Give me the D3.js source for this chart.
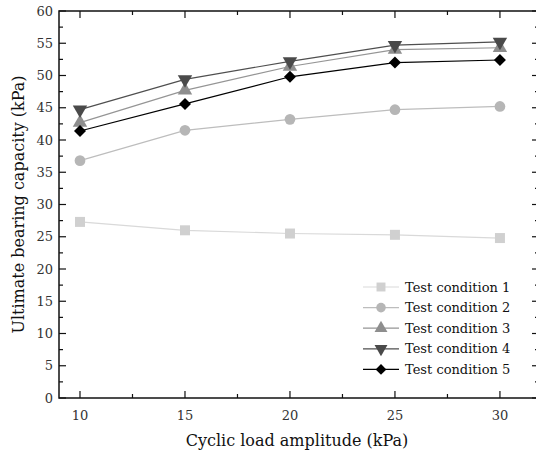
<!DOCTYPE html>
<html><head><meta charset="utf-8">
<script src="https://cdn.jsdelivr.net/npm/d3@7"></script>
<style>body{margin:0;background:#fff}svg{display:block}</style>
</head><body>
<svg id="c" width="536" height="457"></svg>
<script>
const amplitudes = [10, 15, 20, 25, 30];
const seriesNames = ["Test condition 1","Test condition 2","Test condition 3","Test condition 4","Test condition 5"];
const cond1 = [27.3, 26.0, 25.5, 25.3, 24.8];
const cond2 = [36.8, 41.5, 43.2, 44.7, 45.2];
const cond3 = [42.7, 47.7, 51.4, 54.0, 54.3];
const cond4 = [44.7, 49.4, 52.2, 54.7, 55.2];
const cond5 = [41.4, 45.6, 49.8, 52.0, 52.4];
const yTicks = [0,5,10,15,20,25,30,35,40,45,50,55,60];
const xTicks = [10,15,20,25,30];

const seriesVals = [cond1,cond2,cond3,cond4,cond5];
const lineColors = ["#d9d9d9","#bdbdbd","#959595","#4f4f4f","#000000"];
const markColors = ["#d0d0d0","#b6b6b6","#8e8e8e","#4a4a4a","#000000"];
const symbols = [d3.symbolSquare, d3.symbolCircle, d3.symbolTriangle, d3.symbolTriangle, d3.symbolSquare];
const symSizes = [100, 90, 90, 90, 72];
const rotations = [0,0,0,180,45];

const FONT = "DejaVu Serif";
const svg = d3.select("#c").style("font-family", FONT);
const L = 59, R = 539, T = 11, B = 398;
const x = d3.scaleLinear().domain([9, 31.86]).range([L, R]);
const y = d3.scaleLinear().domain([0, 60]).range([B, T]);

const axisColor = "#111";
svg.append("rect").attr("x",L).attr("y",T).attr("width",R-L).attr("height",B-T)
  .attr("fill","none").attr("stroke",axisColor).attr("stroke-width",1.5);

const minorY = d3.range(2.5, 60, 5);
const minorX = [12.5,17.5,22.5,27.5];
const g = svg.append("g").attr("stroke",axisColor).attr("stroke-width",1.2);
yTicks.forEach(v=>{
  g.append("line").attr("x1",L).attr("x2",L+7).attr("y1",y(v)).attr("y2",y(v));
  g.append("line").attr("x1",R).attr("x2",R-7).attr("y1",y(v)).attr("y2",y(v));
});
minorY.forEach(v=>{
  g.append("line").attr("x1",L).attr("x2",L+4).attr("y1",y(v)).attr("y2",y(v));
  g.append("line").attr("x1",R).attr("x2",R-4).attr("y1",y(v)).attr("y2",y(v));
});
xTicks.forEach(v=>{
  g.append("line").attr("x1",x(v)).attr("x2",x(v)).attr("y1",B).attr("y2",B-7);
  g.append("line").attr("x1",x(v)).attr("x2",x(v)).attr("y1",T).attr("y2",T+7);
});
minorX.forEach(v=>{
  g.append("line").attr("x1",x(v)).attr("x2",x(v)).attr("y1",B).attr("y2",B-4);
  g.append("line").attr("x1",x(v)).attr("x2",x(v)).attr("y1",T).attr("y2",T+4);
});

svg.append("g").selectAll("text").data(yTicks).join("text")
  .attr("x",L-6).attr("y",d=>y(d)).attr("dy","0.35em").attr("text-anchor","end")
  .attr("font-size",13).attr("fill","#333").text(d=>d);
svg.append("g").selectAll("text").data(xTicks).join("text")
  .attr("x",d=>x(d)).attr("y",B+22).attr("text-anchor","middle")
  .attr("font-size",13).attr("fill","#333").text(d=>d);

svg.append("text").attr("x",297).attr("y",446).attr("text-anchor","middle")
  .attr("font-size",16).attr("fill","#111").text("Cyclic load amplitude (kPa)");
svg.append("text").attr("transform",`translate(24,${(T+B)/2}) rotate(-90)`).attr("text-anchor","middle")
  .attr("font-size",16).attr("fill","#111").text("Ultimate bearing capacity (kPa)");

const line = d3.line().x((d,i)=>x(amplitudes[i])).y(d=>y(d));
seriesVals.forEach((vals,k)=>{
  svg.append("path").attr("d",line(vals)).attr("fill","none")
    .attr("stroke",lineColors[k]).attr("stroke-width",1.2);
});
seriesVals.forEach((vals,k)=>{
  const sym = d3.symbol().type(symbols[k]).size(symSizes[k]);
  svg.append("g").selectAll("path").data(vals).join("path")
    .attr("d",sym)
    .attr("transform",(d,i)=>`translate(${x(amplitudes[i])},${y(d)}) rotate(${rotations[k]})`)
    .attr("fill",markColors[k]);
});

const lg = svg.append("g");
seriesNames.forEach((name,k)=>{
  const yy = 287 + k*20.6;
  lg.append("line").attr("x1",363).attr("x2",399).attr("y1",yy).attr("y2",yy)
    .attr("stroke",lineColors[k]).attr("stroke-width",1.2);
  lg.append("path").attr("d",d3.symbol().type(symbols[k]).size(symSizes[k]*0.8)())
    .attr("transform",`translate(381,${yy}) rotate(${rotations[k]})`).attr("fill",markColors[k]);
  lg.append("text").attr("x",405).attr("y",yy).attr("dy","0.35em")
    .attr("font-size",13).attr("fill","#111").text(name);
});
</script>
</body></html>
